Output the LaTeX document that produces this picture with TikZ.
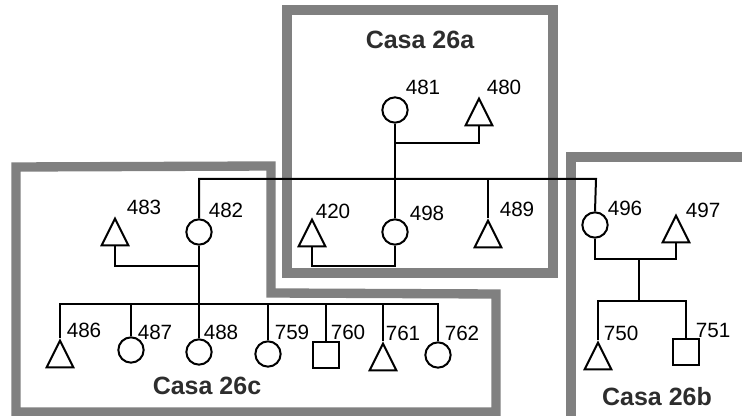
\documentclass[tikz,border=0pt]{standalone}
\usepackage{fontspec}
\setmainfont{Liberation Sans}
\usetikzlibrary{shapes.geometric}
\definecolor{framegray}{RGB}{128,128,128}
\definecolor{casatext}{RGB}{45,45,45}
\begin{document}
\begin{tikzpicture}[x=0.75pt,y=-0.75pt,
  frame/.style={draw=framegray,line width=7pt,line join=miter},
  link/.style={draw=black,line width=1.5pt},
  fem/.style={circle,draw=black,line width=1.5pt,minimum size=19pt,inner sep=0pt},
  male/.style={rectangle,draw=black,line width=1.5pt,minimum size=19pt,inner sep=0pt},
  unk/.style={isosceles triangle,isosceles triangle stretches,shape border rotate=90,
    draw=black,line width=1.5pt,minimum width=20pt,minimum height=20pt,inner sep=0pt,anchor=north},
  lbl/.style={font=\fontsize{15.5pt}{17pt}\selectfont,inner sep=0pt},
  casa/.style={font=\fontsize{18.75pt}{20pt}\selectfont\bfseries,text=casatext,inner sep=0pt}]
\useasboundingbox (0,0) rectangle (742,416);
% frames
\draw[frame] (287,10) rectangle (553,273);
\draw[frame] (16,167) -- (271,166) -- (271,293) -- (496,294) -- (496,412) -- (16,412) -- cycle;
\draw[frame] (750,157) -- (571,157) -- (571,425);
\node[casa] (t26a) at (420,40) {Casa 26a};
\node[casa] (t26c) at (207,386) {Casa 26c};
\node[casa] (t26b) at (657,397) {Casa 26b};
% individuals
\node[fem] (n481) at (395,110) {};
\node[unk] (n480) at (479,96) {};
\node[fem] (n498) at (395,232) {};
\node[unk] (n420) at (312,217) {};
\node[unk] (n489) at (488,218) {};
\node[fem] (n482) at (199,232) {};
\node[unk] (n483) at (115,216) {};
\node[fem] (n496) at (595,225) {};
\node[unk] (n497) at (676,213) {};
\node[unk] (n486) at (60,338) {};
\node[fem] (n487) at (131,350) {};
\node[fem] (n488) at (199,352) {};
\node[fem] (n759) at (268,354) {};
\node[male] (n760) at (326,355) {};
\node[unk] (n761) at (383,341) {};
\node[fem] (n762) at (438,355) {};
\node[unk] (n750) at (598,340) {};
\node[male] (n751) at (686,352) {};
% labels
\node[lbl] (l481) at (423,87) {481};
\node[lbl] (l480) at (504,87) {480};
\node[lbl] (l498) at (427,213) {498};
\node[lbl] (l420) at (333,211) {420};
\node[lbl] (l489) at (517,209) {489};
\node[lbl] (l482) at (226,210) {482};
\node[lbl] (l483) at (144,207) {483};
\node[lbl] (l496) at (625,208) {496};
\node[lbl] (l497) at (703,210) {497};
\node[lbl] (l486) at (84,330) {486};
\node[lbl] (l487) at (155,332) {487};
\node[lbl] (l488) at (221,332) {488};
\node[lbl] (l759) at (292,332) {759};
\node[lbl] (l760) at (348,332) {760};
\node[lbl] (l761) at (403,333) {761};
\node[lbl] (l762) at (462,333) {762};
\node[lbl] (l750) at (621,333) {750};
\node[lbl] (l751) at (713,330) {751};
% junction coordinates
\coordinate (c1) at (395,143);
\coordinate (s1) at (199,179);
\coordinate (s2) at (596,179);
\coordinate (c2) at (395,266);
\coordinate (c3) at (199,266);
\coordinate (c4) at (199,304);
\coordinate (c5) at (639,259);
\coordinate (c6) at (639,301);
% connectors
\draw[link] (n481.south) -- (c1) -| (n480.south);
\draw[link] (c1) -- (n498.north);
\draw[link] (n482.north) -- (s1) -- (s2) -- (n496.north);
\draw[link] (n489.north) -- (n489.north |- s1);
\draw[link] (n420.south) |- (c2) -- (n498.south);
\draw[link] (n483.south) |- (c3);
\draw[link] (n482.south) -- (c4);
\draw[link] (n486.north) -- (n486.north |- c4) -- (n762.north |- c4) -- (n762.north);
\draw[link] (n487.north) -- (n487.north |- c4);
\draw[link] (n488.north) -- (n488.north |- c4);
\draw[link] (n759.north) -- (n759.north |- c4);
\draw[link] (n760.north) -- (n760.north |- c4);
\draw[link] (n761.north) -- (n761.north |- c4);
\draw[link] (n496.south) |- (c5) -| (n497.south);
\draw[link] (c5) -- (c6);
\draw[link] (n750.north) |- (c6) -| (n751.north);
\end{tikzpicture}
\end{document}
